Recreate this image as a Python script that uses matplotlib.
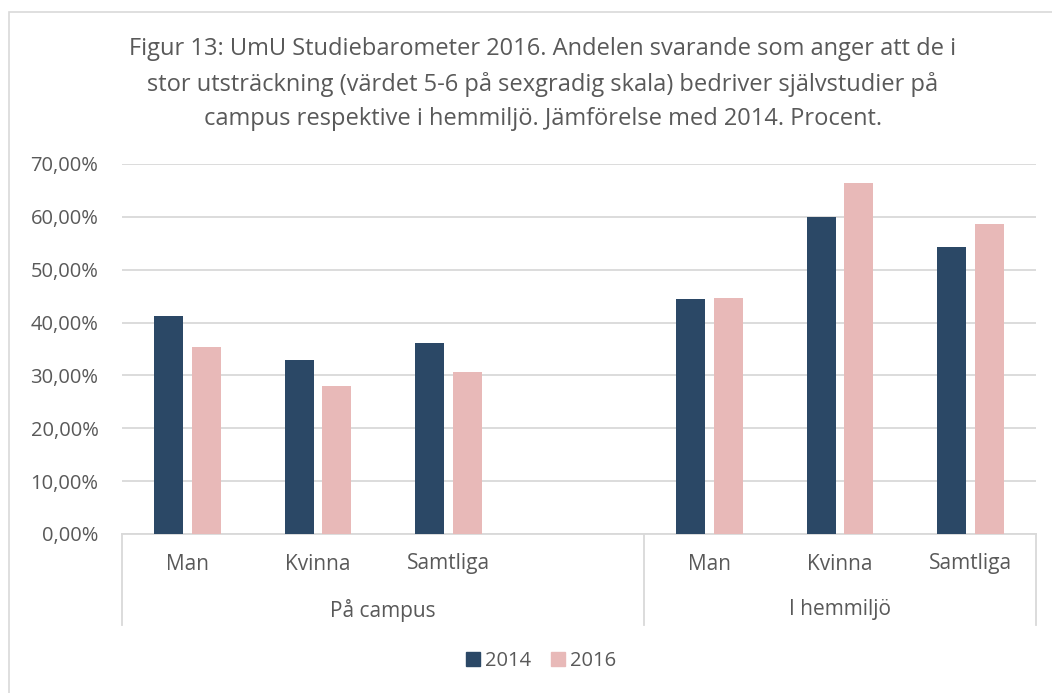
import numpy as np
import matplotlib
matplotlib.use("Agg")
import matplotlib.pyplot as plt
from matplotlib.patches import Patch, Rectangle
from matplotlib.transforms import blended_transform_factory

# data
groups = ["På campus", "I hemmiljö"]
categories = ["Man", "Kvinna", "Samtliga"]
values_2014 = [41.2, 32.9, 36.1, 44.4, 60.0, 54.3]
values_2016 = [35.4, 28.0, 30.7, 44.7, 66.5, 58.6]
years = ["2014", "2016"]
yticks = [0, 10, 20, 30, 40, 50, 60, 70]

title = ("Figur 13: UmU Studiebarometer 2016. Andelen svarande som anger att de i\n"
         "stor utsträckning (värdet 5-6 på sexgradig skala) bedriver självstudier på\n"
         "campus respektive i hemmiljö. Jämförelse med 2014. Procent.")

dark = "#2B4866"
pink = "#E8B9B8"
grid_c = "#D9D9D9"
text_c = "#595959"

plt.rcParams["font.family"] = ["Open Sans", "DejaVu Sans"]

fig = plt.figure(figsize=(10.52, 6.93), dpi=100)
W, H = 1052, 693
ax = fig.add_axes([122 / W, 1 - 534 / H, (1036 - 122) / W, (534 - 164) / H])

# slots: 3 categories + one empty slot for first group, 3 for second
pos = [0, 1, 2, 4, 5, 6]
bw = 0.222
off = 0.144
ax.bar(np.array(pos) - off, values_2014, bw, color=dark, zorder=3)
ax.bar(np.array(pos) + off, values_2016, bw, color=pink, zorder=3)

ax.set_xlim(-0.5, 6.5)
ax.set_ylim(0, 70)
ax.set_yticks(yticks)
ax.set_yticklabels([f"{v:.2f}%".replace(".", ",") for v in yticks], fontsize=14.5, color=text_c)
ax.tick_params(axis="y", length=0, pad=17)
ax.set_xticks([])
ax.grid(axis="y", color=grid_c, linewidth=1.3, zorder=0)
for s in ["top", "right", "left"]:
    ax.spines[s].set_visible(False)
ax.spines["bottom"].set_color(grid_c)
ax.spines["bottom"].set_linewidth(1.3)

# hierarchical category axis
tr = blended_transform_factory(ax.transData, ax.transAxes)
for x in [-0.5, 3.5, 6.5]:
    ax.plot([x, x], [0, -91 / 370], color=grid_c, lw=1.3, transform=tr, clip_on=False)
for i, x in enumerate(pos):
    ax.text(x, -30 / 370, categories[i % 3], transform=tr, ha="center", va="center",
            fontsize=15, color=text_c)
ax.text(1.5, -76 / 370, groups[0], transform=tr, ha="center", va="center", fontsize=15, color=text_c)
ax.text(5.0, -76 / 370, groups[1], transform=tr, ha="center", va="center", fontsize=15, color=text_c)

fig.text(543 / W, 1 - 84 / H, title, ha="center", va="center", fontsize=17,
         color=text_c, linespacing=1.58)

handles = [Patch(color=dark, label=years[0]), Patch(color=pink, label=years[1])]
fig.legend(handles=handles, loc="center", bbox_to_anchor=(541 / W, 1 - 661 / H), ncol=2,
           frameon=False, fontsize=14.5, handlelength=0.7, handleheight=0.7,
           handletextpad=0.25, columnspacing=1.0, labelcolor=text_c)

# chart border (left/top edges visible, others run off the image)
fig.patches.append(Rectangle((9 / W, -0.1), 1.2, 1 - 12 / H + 0.1, transform=fig.transFigure,
                             fill=False, edgecolor=grid_c, lw=1.2))

fig.savefig("out.png", dpi=100)
